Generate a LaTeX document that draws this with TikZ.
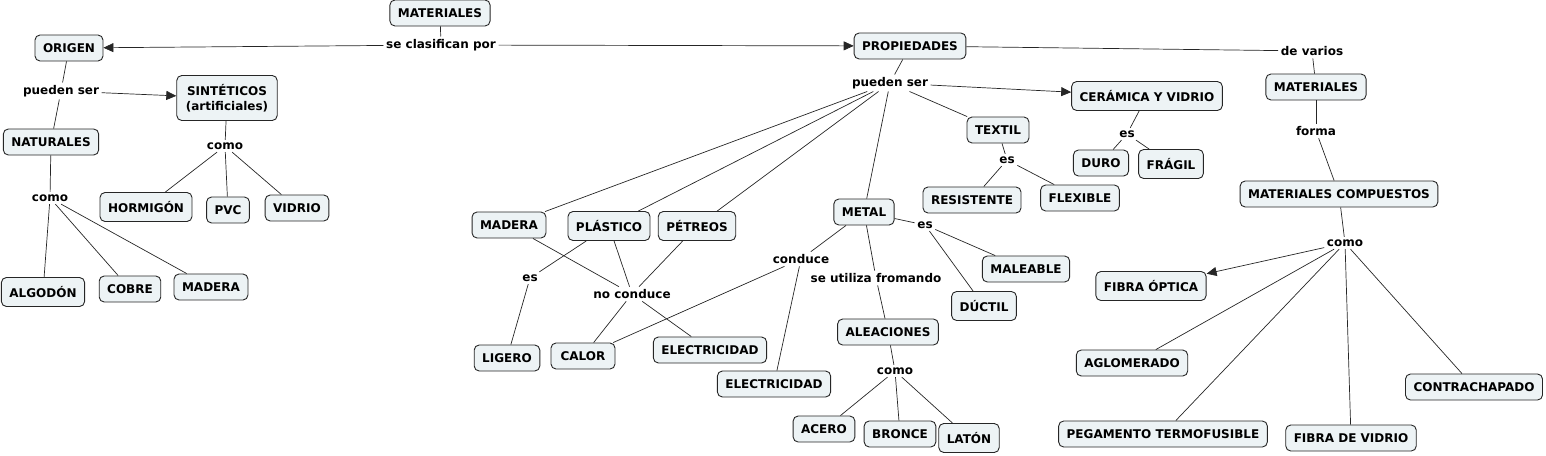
\documentclass[tikz,border=0pt]{standalone}
\usepackage{fontspec}
\setmainfont{DejaVu Sans}
\usetikzlibrary{arrows.meta}
\definecolor{boxfill}{RGB}{237,243,245}
\begin{document}
\begin{tikzpicture}[x=1pt,y=-1pt,
  concept/.style={draw=black!85,line width=0.9pt,fill=boxfill,rounded corners=5pt,
    font=\fontsize{12}{14.5}\selectfont\bfseries,inner xsep=8pt,minimum height=26pt,align=center},
  tall/.style={minimum height=29pt},
  lab/.style={font=\fontsize{12}{14}\selectfont\bfseries,inner sep=2.5pt},
  link/.style={draw=black!85,line width=0.7pt},
  arr/.style={link,-{Triangle[length=10pt,width=9pt]}}]
\useasboundingbox (0,0) rectangle (1546,455);
% top
\node[concept] (mat) at (440,13) {MATERIALES};
\node[lab] (clas) at (441,45) {se clasifican por};
\node[concept] (orig) at (69,48) {ORIGEN};
\node[concept] (prop) at (910,46) {PROPIEDADES};
% left
\node[lab] (pueL) at (61,91) {pueden ser};
\node[concept,minimum height=45pt,inner xsep=9pt] (sint) at (227,98) {SINTÉTICOS\\(artificiales)};
\node[concept] (nat) at (51,142) {NATURALES};
\node[lab] (comoN) at (50,198) {como};
\node[lab] (comoS) at (225,146) {como};
\node[concept,tall] (horm) at (146,207) {HORMIGÓN};
\node[concept] (pvc) at (228,210) {PVC};
\node[concept] (vid) at (297,208) {VIDRIO};
\node[concept,tall] (alg) at (43,292) {ALGODÓN};
\node[concept] (cob) at (130,289) {COBRE};
\node[concept] (madL) at (211,287) {MADERA};
% middle
\node[lab] (pueR) at (890,83) {pueden ser};
\node[concept,tall] (cer) at (1147,96) {CERÁMICA Y VIDRIO};
\node[concept] (tex) at (998,130) {TEXTIL};
\node[lab] (esT) at (1007,160) {es};
\node[concept] (res) at (972,200) {RESISTENTE};
\node[concept] (flex) at (1080,198) {FLEXIBLE};
\node[lab] (esC) at (1127,134) {es};
\node[concept] (duro) at (1101,163) {DURO};
\node[concept,tall] (frag) at (1171,164) {FRÁGIL};
\node[concept] (madM) at (509,225) {MADERA};
\node[concept,tall] (plas) at (609,226) {PLÁSTICO};
\node[concept,tall] (pet) at (697,226) {PÉTREOS};
\node[concept] (metal) at (864,212) {METAL};
\node[lab] (esM) at (925,225) {es};
\node[concept] (mal) at (1026,269) {MALEABLE};
\node[concept,tall] (duc) at (984,306) {DÚCTIL};
\node[lab] (cond) at (801,259) {conduce};
\node[lab] (util) at (876,278) {se utiliza fromando};
\node[lab] (esP) at (530,278) {es};
\node[lab] (nocond) at (632,294) {no conduce};
\node[concept] (lig) at (507,358) {LIGERO};
\node[concept,minimum width=64pt] (cal) at (583,356) {CALOR};
\node[concept] (elec1) at (710,350) {ELECTRICIDAD};
\node[concept] (elec2) at (774,384) {ELECTRICIDAD};
\node[concept] (alea) at (888,332) {ALEACIONES};
\node[lab] (comoA) at (895,371) {como};
\node[concept] (acero) at (824,429) {ACERO};
\node[concept] (bron) at (900,434) {BRONCE};
\node[concept,tall] (laton) at (969,438) {LATÓN};
% right
\node[lab] (varios) at (1312,51) {de varios};
\node[concept] (matR) at (1316,87) {MATERIALES};
\node[lab] (forma) at (1316,131) {forma};
\node[concept] (comp) at (1339,194) {MATERIALES COMPUESTOS};
\node[lab] (comoR) at (1345,243) {como};
\node[concept,tall] (fopt) at (1151,286) {FIBRA ÓPTICA};
\node[concept] (aglo) at (1132,363) {AGLOMERADO};
\node[concept] (contra) at (1474,387) {CONTRACHAPADO};
\node[concept] (pega) at (1163,434) {PEGAMENTO TERMOFUSIBLE};
\node[concept] (fvid) at (1351,438) {FIBRA DE VIDRIO};
% links
\draw[link] (mat) -- (clas);
\draw[arr] (clas) -- (orig);
\draw[arr] (clas) -- (prop);
\draw[link] (orig) -- (pueL);
\draw[arr] (pueL) -- (sint);
\draw[link] (pueL) -- (nat);
\draw[link] (nat) -- (comoN);
\draw[link] (comoN) -- (alg);
\draw[link] (comoN) -- (cob);
\draw[link] (comoN) -- (madL);
\draw[link] (sint) -- (comoS);
\draw[link] (comoS) -- (horm);
\draw[link] (comoS) -- (pvc);
\draw[link] (comoS) -- (vid);
\draw[link] (prop) -- (pueR);
\draw[arr] (pueR) -- (cer);
\draw[link] (pueR) -- (tex);
\draw[link] (pueR) -- (madM);
\draw[link] (pueR) -- (plas);
\draw[link] (pueR) -- (pet);
\draw[link] (pueR) -- (metal);
\draw[link] (tex) -- (esT);
\draw[link] (esT) -- (res);
\draw[link] (esT) -- (flex);
\draw[link] (cer) -- (esC);
\draw[link] (esC) -- (duro);
\draw[link] (esC) -- (frag);
\draw[link] (madM) -- (nocond);
\draw[link] (plas) -- (nocond);
\draw[link] (pet) -- (nocond);
\draw[link] (nocond) -- (cal);
\draw[link] (nocond) -- (elec1);
\draw[link] (plas) -- (esP);
\draw[link] (esP) -- (lig);
\draw[link] (metal) -- (cond);
\draw[link] (cond) -- (cal);
\draw[link] (cond) -- (elec2);
\draw[link] (metal) -- (util);
\draw[link] (util) -- (alea);
\draw[link] (alea) -- (comoA);
\draw[link] (comoA) -- (acero);
\draw[link] (comoA) -- (bron);
\draw[link] (comoA) -- (laton);
\draw[link] (metal) -- (esM);
\draw[link] (esM) -- (mal);
\draw[link] (esM) -- (duc);
\draw[link] (prop) -- (varios);
\draw[link] (varios) -- (matR);
\draw[link] (matR) -- (forma);
\draw[link] (forma) -- (comp);
\draw[link] (comp) -- (comoR);
\draw[arr] (comoR) -- (fopt);
\draw[link] (comoR) -- (aglo);
\draw[link] (comoR) -- (pega);
\draw[link] (comoR) -- (fvid);
\draw[link] (comoR) -- (contra);
\end{tikzpicture}
\end{document}
